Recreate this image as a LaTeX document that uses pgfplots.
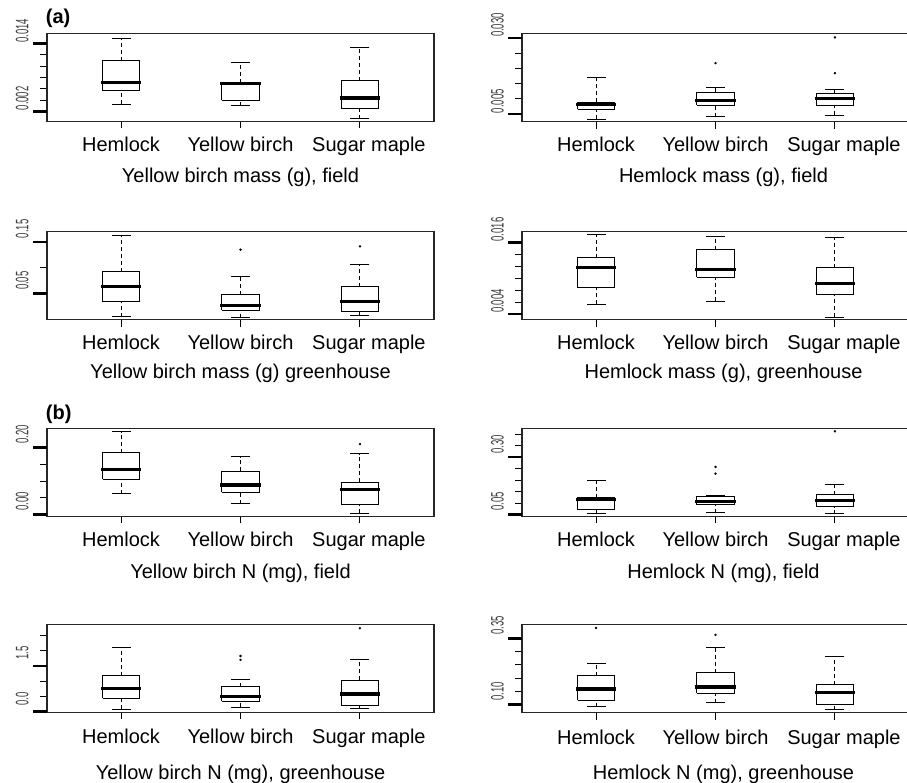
\documentclass[border=0pt]{standalone}
\usepackage{pgfplots}
\pgfplotsset{compat=1.18}
\usepackage{fontspec}
\setmainfont{Liberation Sans}
% #1 left edge, #2 centre, #3 right edge, #4 lower whisker, #5 lower quartile, #6 median, #7 upper quartile, #8 upper whisker
\newcommand{\bxp}[8]{%
  \addplot[black, line width=1pt, dash pattern=on 4pt off 3pt] coordinates {(#2,#4) (#2,#5)};
  \addplot[black, line width=1pt, dash pattern=on 4pt off 3pt] coordinates {(#2,#7) (#2,#8)};
  \addplot[black, only marks, mark=-, mark size=9.5pt, mark options={solid, line width=1pt}] coordinates {(#2,#4) (#2,#8)};
  \addplot[black, line width=1pt, fill=white] coordinates {(#1,#5) (#3,#5) (#3,#7) (#1,#7) (#1,#5)};
  \addplot[black, line width=3.2pt, line cap=rect] coordinates {(#1,#6) (#3,#6)};
}
\newcommand{\ylab}[1]{{\fontsize{18}{22}\selectfont\scalebox{0.53}[1]{#1}}}
\pgfplotsset{
  rpanel/.style={
    scale only axis, width=387pt, height=88pt,
    xmin=0.38, xmax=3.62,
    scaled y ticks=false,
    axis line style={line width=1.3pt, black!85},
    xtick={1,2,3}, xticklabels={Hemlock,Yellow birch,\hspace*{18pt}Sugar maple},
    tick pos=left, tick align=outside, major tick length=7pt,
    minor tick num=0,
    tick style={black, line width=1pt},
    font=\fontsize{20}{24}\selectfont,
    ticklabel style={font=\fontsize{20}{24}\selectfont},
    xticklabel style={anchor=base, yshift=-23pt},
    yticklabels={},
    extra y tick style={major tick length=14pt, tick style={line width=2.6pt},
      yticklabel style={yshift=13pt, xshift=-4.5pt, rotate=90, anchor=base, text=black!75}},
    every axis x label/.style={at={(axis description cs:0.5,0)}, anchor=base, yshift=-61pt},
    clip=false,
  },
  rright/.style={xlabel style={xshift=8pt}},
}
\begin{document}
\begin{tikzpicture}
\path[use as bounding box, clip] (0,0) rectangle (907pt,-783pt);
% ---------- row 1
\begin{axis}[rpanel, at={(47pt,-33.5pt)}, anchor=north west,
  ymin=0.0002, ymax=0.0158, ytick={0.002,0.004,0.006,0.008,0.010,0.012,0.014},
  extra y ticks={0.002,0.014}, extra y tick labels={\ylab{0.002},\ylab{0.014}},
  xlabel={Yellow birch mass (g), field}]
\bxp{0.845}{1}{1.155}{0.00323}{0.00568}{0.00716}{0.01095}{0.01488}
\bxp{1.845}{2}{2.155}{0.0030}{0.00393}{0.0070}{0.0071}{0.0106}
\bxp{2.845}{3}{3.155}{0.00072}{0.00242}{0.00435}{0.00739}{0.01335}
\end{axis}
\begin{axis}[rpanel, rright, at={(522pt,-33.8pt)}, anchor=north west,
  ymin=0.00246, ymax=0.0314, ytick={0.005,0.010,0.015,0.020,0.025,0.030},
  extra y ticks={0.005,0.030}, extra y tick labels={\ylab{0.005},\ylab{0.030}},
  xlabel={Hemlock mass (g), field}]
\bxp{0.845}{1}{1.155}{0.00335}{0.00655}{0.0082}{0.00894}{0.0170}
\bxp{1.845}{2}{2.155}{0.0041}{0.00797}{0.00939}{0.01217}{0.01382}
\bxp{2.845}{3}{3.155}{0.00467}{0.00797}{0.01018}{0.01184}{0.01303}
\addplot[black, only marks, mark=*, mark size=1pt] coordinates {(2,0.02174) (3,0.0302) (3,0.01844)};
\end{axis}
% ---------- row 2
\begin{axis}[rpanel, at={(47pt,-231.7pt)}, anchor=north west,
  ymin=-0.0002, ymax=0.1698, ytick={0.05,0.10,0.15},
  extra y ticks={0.05,0.15}, extra y tick labels={\ylab{0.05},\ylab{0.15}},
  xlabel={Yellow birch mass (g) greenhouse}, xlabel style={yshift=2pt}]
\bxp{0.845}{1}{1.155}{0.0051}{0.0348}{0.0638}{0.0927}{0.1632}
\bxp{1.845}{2}{2.155}{0.0032}{0.0184}{0.0269}{0.048}{0.0842}
\bxp{2.845}{3}{3.155}{0.0071}{0.015}{0.0348}{0.063}{0.1073}
\addplot[black, only marks, mark=*, mark size=1pt] coordinates {(2,0.135) (3,0.1415)};
\end{axis}
\begin{axis}[rpanel, rright, at={(522pt,-231.7pt)}, anchor=north west,
  ymin=0.00305, ymax=0.0178, ytick={0.004,0.006,0.008,0.010,0.012,0.014,0.016},
  extra y ticks={0.004,0.016}, extra y tick labels={\ylab{0.004},\ylab{0.016}},
  xlabel={Hemlock mass (g), greenhouse}, xlabel style={yshift=2pt}]
\bxp{0.845}{1}{1.155}{0.00565}{0.00843}{0.01179}{0.01345}{0.01725}
\bxp{1.845}{2}{2.155}{0.00617}{0.01014}{0.0114}{0.01474}{0.01696}
\bxp{2.845}{3}{3.155}{0.00344}{0.00731}{0.00909}{0.01179}{0.01679}
\end{axis}
% ---------- row 3
\begin{axis}[rpanel, at={(47pt,-428.3pt)}, anchor=north west,
  ymin=-0.005, ymax=0.257, ytick={0,0.05,0.10,0.15,0.20},
  extra y ticks={0,0.20}, extra y tick labels={\ylab{0.00},\ylab{0.20}},
  xlabel={Yellow birch N (mg), field}, xlabel style={yshift=-1pt}]
\bxp{0.845}{1}{1.155}{0.062}{0.106}{0.135}{0.184}{0.247}
\bxp{1.845}{2}{2.155}{0.032}{0.066}{0.088}{0.129}{0.172}
\bxp{2.845}{3}{3.155}{0.004}{0.029}{0.074}{0.096}{0.181}
\addplot[black, only marks, mark=*, mark size=1pt] coordinates {(3,0.21)};
\end{axis}
\begin{axis}[rpanel, rright, at={(522pt,-428.3pt)}, anchor=north west,
  ymin=0.0426, ymax=0.425, ytick={0.05,0.10,0.15,0.20,0.25,0.30,0.35,0.40},
  extra y ticks={0.05,0.30}, extra y tick labels={\ylab{0.05},\ylab{0.30}},
  xlabel={Hemlock N (mg), field}, xlabel style={yshift=-1pt}]
\bxp{0.845}{1}{1.155}{0.0557}{0.0719}{0.1156}{0.123}{0.199}
\bxp{1.845}{2}{2.155}{0.0587}{0.0924}{0.1069}{0.1288}{0.134}
\bxp{2.845}{3}{3.155}{0.0544}{0.085}{0.11}{0.136}{0.1826}
\addplot[black, only marks, mark=*, mark size=1pt] coordinates {(2,0.257) (2,0.228) (3,0.412)};
\end{axis}
% ---------- row 4
\begin{axis}[rpanel, at={(47pt,-624.3pt)}, anchor=north west,
  ymin=-0.02, ymax=2.87, ytick={0,0.5,1.0,1.5,2.0,2.5},
  extra y ticks={0,1.5}, extra y tick labels={\ylab{0.0},\ylab{1.5}},
  xlabel={Yellow birch N (mg), greenhouse}, xlabel style={yshift=-6pt},
  xticklabel style={yshift=-1.3pt}]
\bxp{0.845}{1}{1.155}{0.079}{0.44}{0.755}{1.18}{2.114}
\bxp{1.845}{2}{2.155}{0.154}{0.351}{0.506}{0.82}{1.064}
\bxp{2.845}{3}{3.155}{0.11}{0.21}{0.58}{1.03}{1.707}
\addplot[black, only marks, mark=*, mark size=1pt] coordinates {(2,1.83) (2,1.70) (3,2.74)};
\end{axis}
\begin{axis}[rpanel, rright, at={(522pt,-624.8pt)}, anchor=north west,
  ymin=0.068, ymax=0.402, ytick={0.10,0.15,0.20,0.25,0.30,0.35},
  extra y ticks={0.10,0.35}, extra y tick labels={\ylab{0.10},\ylab{0.35}},
  xlabel={Hemlock N (mg), greenhouse}, xlabel style={yshift=-6pt},
  xticklabel style={yshift=-1.3pt}]
\bxp{0.845}{1}{1.155}{0.091}{0.115}{0.1585}{0.208}{0.257}
\bxp{1.845}{2}{2.155}{0.1065}{0.143}{0.166}{0.22}{0.317}
\bxp{2.845}{3}{3.155}{0.0797}{0.10}{0.145}{0.175}{0.28}
\addplot[black, only marks, mark=*, mark size=1pt] coordinates {(1,0.39) (2,0.364)};
\end{axis}
\node[anchor=base west, inner sep=0pt, font=\fontsize{20}{24}\selectfont\bfseries] at (45.7pt,-23.5pt) {(a)};
\node[anchor=base west, inner sep=0pt, font=\fontsize{20}{24}\selectfont\bfseries] at (45.7pt,-419.3pt) {(b)};
\end{tikzpicture}
\end{document}
